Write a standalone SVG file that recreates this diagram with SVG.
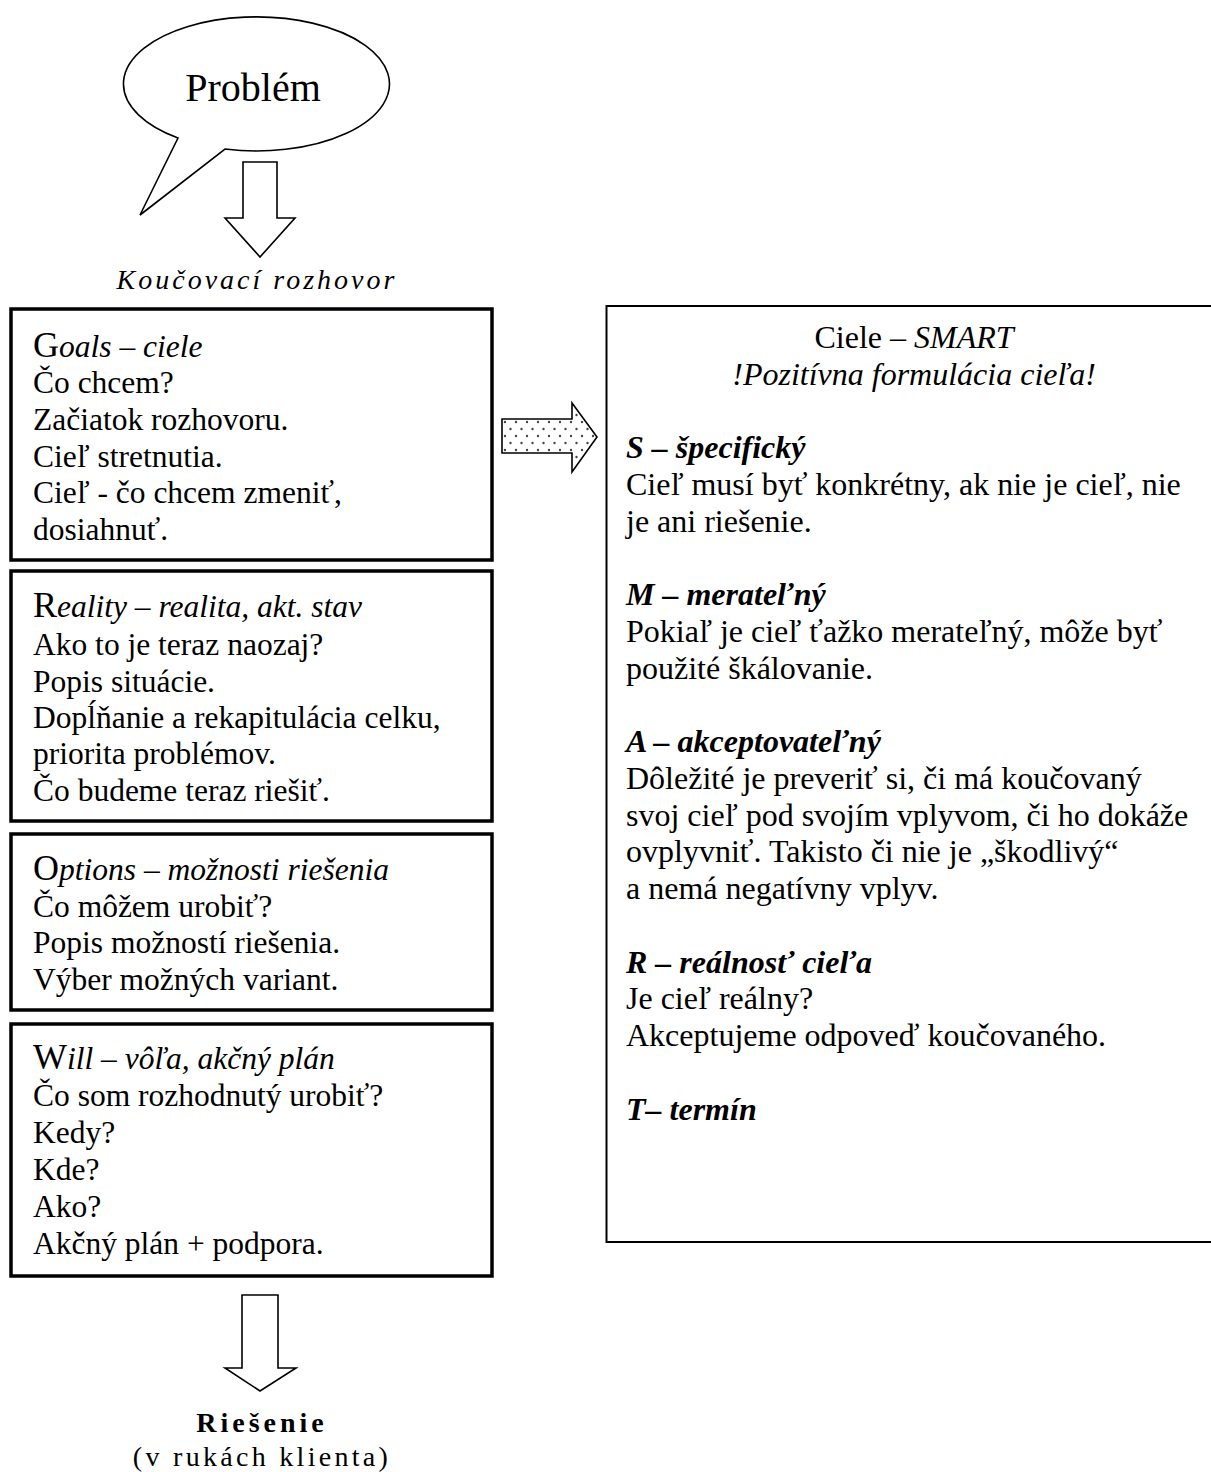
<svg xmlns="http://www.w3.org/2000/svg" width="1211" height="1472" viewBox="0 0 1211 1472">
<style>
.t{font-family:"Liberation Serif","Times New Roman",serif;font-size:31.5px;fill:#000}
.r{font-size:32px}
.i{font-style:italic}
.bi{font-style:italic;font-weight:bold}
.cap{font-size:36px;font-style:normal}
.box{fill:#fff;stroke:#000;stroke-width:3.5}
.rbox{fill:#fff;stroke:#000;stroke-width:2}
.shape{fill:#fff;stroke:#000;stroke-width:1.6;stroke-linejoin:miter}
</style>
<defs>
<pattern id="dots" width="11" height="14" patternUnits="userSpaceOnUse" x="502" y="419">
<rect width="11" height="14" fill="#fff"/>
<circle cx="3" cy="3" r="1.2" fill="#444"/>
<circle cx="8.5" cy="10" r="1.2" fill="#444"/>
</pattern>
</defs>
<rect width="1211" height="1472" fill="#fff"/>

<g id="problem">
<path class="shape" d="M225,149 A133,67 0 1 0 178,138 L140,215 Z"/>
<text class="t" x="253" y="101" text-anchor="middle" style="font-size:40px">Problém</text>
</g>

<g id="connectors">
<path class="shape" d="M243,162 H277 V218 H295 L260,257 L225,218 H243 Z"/>
<path class="shape" d="M502,419 H572 V403 L597,437 L572,472 V453 H502 Z" style="fill:url(#dots)"/>
<path class="shape" d="M242,1295 H278 V1368 H296 L260,1391 L225,1368 H242 Z"/>
</g>

<g id="label-koucovaci">
<text class="t i" x="257" y="289" text-anchor="middle" style="font-size:28px;letter-spacing:3px">Koučovací rozhovor</text>
</g>

<g id="goals">
<rect class="box" x="11" y="309" width="481" height="251"/>
<text class="t" x="33" y="357"><tspan class="cap">G</tspan><tspan class="i">oals  – ciele</tspan></text>
<text class="t" x="33" y="393">Čo chcem?</text>
<text class="t" x="33" y="430">Začiatok rozhovoru.</text>
<text class="t" x="33" y="467">Cieľ stretnutia.</text>
<text class="t" x="33" y="503">Cieľ - čo chcem zmeniť,</text>
<text class="t" x="33" y="540">dosiahnuť.</text>
</g>

<g id="reality">
<rect class="box" x="11" y="571" width="481" height="250"/>
<text class="t" x="33" y="617"><tspan class="cap">R</tspan><tspan class="i">eality  –  realita, akt. stav</tspan></text>
<text class="t" x="33" y="655">Ako to je teraz naozaj?</text>
<text class="t" x="33" y="692">Popis situácie.</text>
<text class="t" x="33" y="728">Dopĺňanie a rekapitulácia celku,</text>
<text class="t" x="33" y="764">priorita problémov.</text>
<text class="t" x="33" y="801">Čo budeme teraz riešiť.</text>
</g>

<g id="options">
<rect class="box" x="11" y="834" width="481" height="176"/>
<text class="t" x="33" y="880"><tspan class="cap">O</tspan><tspan class="i">ptions  –  možnosti riešenia</tspan></text>
<text class="t" x="33" y="917">Čo môžem urobiť?</text>
<text class="t" x="33" y="953">Popis možností riešenia.</text>
<text class="t" x="33" y="990">Výber možných variant.</text>
</g>

<g id="will">
<rect class="box" x="11" y="1024" width="481" height="252"/>
<text class="t" x="33" y="1069"><tspan class="cap">W</tspan><tspan class="i">ill  –  vôľa, akčný plán</tspan></text>
<text class="t" x="33" y="1106">Čo som rozhodnutý urobiť?</text>
<text class="t" x="33" y="1143">Kedy?</text>
<text class="t" x="33" y="1180">Kde?</text>
<text class="t" x="33" y="1217">Ako?</text>
<text class="t" x="33" y="1254">Akčný plán + podpora.</text>
</g>

<g id="smart">
<rect class="rbox" x="606.5" y="306" width="620" height="936"/>
<text class="t r" x="914" y="348" text-anchor="middle">Ciele – <tspan class="i">SMART</tspan></text>
<text class="t r i" x="914" y="385" text-anchor="middle">!Pozitívna formulácia cieľa!</text>
<text class="t r bi" x="626" y="458">S  – špecifický</text>
<text class="t r" x="626" y="495">Cieľ musí byť konkrétny, ak nie je cieľ, nie</text>
<text class="t r" x="626" y="532">je ani riešenie.</text>
<text class="t r bi" x="626" y="605">M  – merateľný</text>
<text class="t r" x="626" y="642">Pokiaľ je cieľ ťažko merateľný, môže byť</text>
<text class="t r" x="626" y="679">použité škálovanie.</text>
<text class="t r bi" x="626" y="752">A  – akceptovateľný</text>
<text class="t r" x="626" y="789">Dôležité je preveriť si, či má koučovaný</text>
<text class="t r" x="626" y="826">svoj cieľ pod svojím vplyvom, či ho dokáže</text>
<text class="t r" x="626" y="862">ovplyvniť. Takisto či nie je „škodlivý“</text>
<text class="t r" x="626" y="899">a nemá negatívny vplyv.</text>
<text class="t r bi" x="626" y="973">R  – reálnosť cieľa</text>
<text class="t r" x="626" y="1009">Je cieľ reálny?</text>
<text class="t r" x="626" y="1046">Akceptujeme odpoveď koučovaného.</text>
<text class="t r bi" x="626" y="1120">T– termín</text>
</g>

<g id="riesenie">
<text class="t" x="262" y="1432" text-anchor="middle" style="font-size:28px;font-weight:bold;letter-spacing:4px">Riešenie</text>
<text class="t" x="262" y="1466" text-anchor="middle" style="font-size:28px;letter-spacing:3.3px">(v rukách klienta)</text>
</g>
</svg>
